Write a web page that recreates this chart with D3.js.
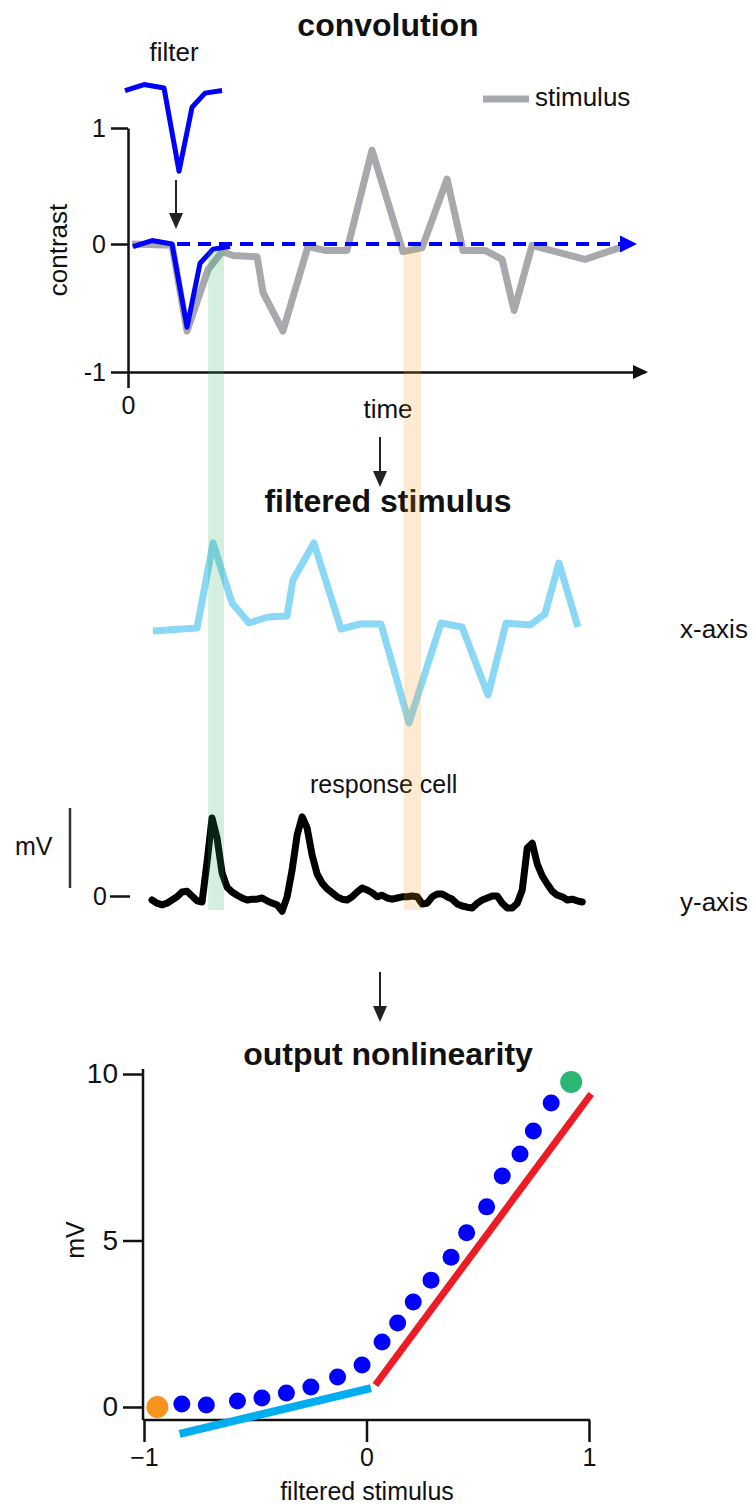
<!DOCTYPE html>
<html><head><meta charset="utf-8">
<script src="https://cdn.jsdelivr.net/npm/d3@7"></script>
<style>
body{margin:0;background:#fff}
text{font-family:"Liberation Sans",Arial,Helvetica,sans-serif;fill:#111}
</style>
</head><body>
<svg id="c" width="753" height="1504"></svg>
<script>
// ---------- data ----------
// convolution panel (time in frames, contrast)
const stimTime = [0.24,2.64,3.54,4.80,5.64,6.30,7.74,8.10,9.29,10.79,11.81,13.13,14.63,16.49,17.63,19.13,20.09,21.41,22.43,23.15,24.23,27.40,29.68];
const stimContrast = [0,-0.01,-0.68,-0.20,-0.06,-0.09,-0.10,-0.38,-0.68,-0.02,-0.05,-0.05,0.81,-0.06,-0.03,0.56,-0.05,-0.05,-0.12,-0.52,-0.01,-0.12,-0.02];
const filterTime = [0.30,1.44,2.64,3.54,4.32,5.10,6.12];
const filterWeight = [-0.02,0.03,0,-0.65,-0.15,-0.04,-0.02];
const contrastTicks = [-1,0,1];
const timeTicks = [0];
// filtered stimulus
const filteredTime = [1.50,4.14,5.10,6.24,7.26,8.40,9.53,9.89,11.15,12.77,13.91,15.17,16.85,18.77,20.03,21.59,22.67,24.11,25.00,25.84,26.98];
const filteredValue = [-0.06,-0.03,0.82,0.22,0.02,0.08,0.09,0.45,0.82,-0.04,0.01,0.01,-0.98,0.02,-0.02,-0.70,0.02,0.00,0.11,0.62,-0.02];
// response cell (mV), sampled every 0.3 frames from t = 1.44
const responseStart = 1.44, responseStep = 0.3;
const responseMV = [-0.5,-0.9,-1.1,-0.9,-0.5,-0.1,0.5,0.6,0,-0.6,-0.75,4.25,9.75,7.25,2.9,1.1,0.5,0.1,-0.25,-0.5,
 -0.4,-0.4,-0.25,-0.6,-0.9,-1.1,-1.9,-0.1,3.25,7.6,9.9,8.5,5.1,2.75,1.6,0.9,0.4,-0.1,-0.4,-0.5,
 -0.1,0.5,1.0,0.75,0.4,-0.1,0.1,-0.25,-0.4,-0.25,-0.1,-0.1,0,-0.1,-1.0,-0.9,-0.1,0.25,0.25,-0.1,
 -0.4,-1.0,-1.25,-1.4,-1.5,-0.9,-0.5,-0.25,0,0,-0.9,-1.5,-1.5,-0.9,0.75,6.0,6.6,4.0,2.5,1.5,
 0.6,0.1,-0.1,-0.5,-0.4,-0.6,-0.75];
const responseTicks = [0];
const scaleBarMV = [1, 11];
const highlightBands = [[4.80,5.76],[16.55,17.57]];
const bandColors = ["#27ae60","#f7941d"];
// output nonlinearity
const nlX = [-0.94,-0.83,-0.72,-0.58,-0.47,-0.36,-0.25,-0.13,-0.02,0.07,0.14,0.21,0.29,0.38,0.45,0.54,0.61,0.69,0.75,0.83,0.92];
const nlY = [0.0,0.09,0.06,0.18,0.27,0.42,0.60,0.90,1.26,1.95,2.52,3.15,3.81,4.50,5.23,6.01,6.94,7.60,8.29,9.13,9.76];
const fitNegX = [-0.84,0.02], fitNegY = [-0.81,0.57];
const fitPosX = [0.04,1.01],  fitPosY = [0.66,9.40];
const nlTicksX = [-1,0,1];
const nlTicksY = [0,5,10];

// ---------- drawing ----------
const svg = d3.select("#c");
const FONT = 25;

const tX = d3.scaleLinear().domain([0,31]).range([128,645]);
const cY = d3.scaleLinear().domain([-1,0,1]).range([372,244,128]);
const fY = d3.scaleLinear().domain([-1,1]).range([725,525]);
const rY = d3.scaleLinear().domain([0,10]).range([896,816]);
const nX = d3.scaleLinear().domain([-1,1]).range([144,589]);
const nY = d3.scaleLinear().domain([0,10]).range([1407,1074]);

function text(x,y,s,opt={}){
  const t = svg.append("text").attr("x",x).attr("y",y).text(s)
    .attr("font-size",opt.size||FONT).attr("text-anchor",opt.anchor||"start");
  if(opt.bold) t.attr("font-weight","bold");
  if(opt.rotate) t.attr("transform",`rotate(-90,${x},${y})`);
  return t;
}
function arrowDown(x,y1,y2){
  svg.append("line").attr("x1",x).attr("x2",x).attr("y1",y1).attr("y2",y2-12)
    .attr("stroke","#222").attr("stroke-width",2);
  svg.append("path").attr("d",`M${x-7},${y2-16}L${x+7},${y2-16}L${x},${y2}Z`).attr("fill","#222");
}
function styleAxis(g,size){
  g.selectAll("line").attr("stroke","#111").attr("stroke-width",2.5);
  g.selectAll("path").attr("stroke","#111").attr("stroke-width",2.5);
  g.selectAll("text").attr("font-size",size).attr("fill","#111")
    .attr("font-family",'"Liberation Sans",Arial,sans-serif');
}

// titles
text(388,36,"convolution",{size:32,bold:true,anchor:"middle"});
text(388,512,"filtered stimulus",{size:32,bold:true,anchor:"middle"});
text(388,1065,"output nonlinearity",{size:32,bold:true,anchor:"middle"});

// ---- convolution panel ----
const stimData = stimTime.map((t,i)=>[t,stimContrast[i]]);
const filtData = filterTime.map((t,i)=>[t,filterWeight[i]]);
const lineC = d3.line().x(d=>tX(d[0])).y(d=>cY(d[1]));

svg.append("path").attr("d",lineC(stimData)).attr("fill","none")
  .attr("stroke","#a7a9ac").attr("stroke-width",7).attr("stroke-linejoin","round");

// dashed zero line with arrowhead
const dashEnd = 29.5;
svg.append("line").attr("x1",tX(2.94)).attr("x2",tX(dashEnd)).attr("y1",cY(0)).attr("y2",cY(0))
  .attr("stroke","#0000ff").attr("stroke-width",4).attr("stroke-dasharray","13,8");
svg.append("path").attr("d",`M${tX(dashEnd)},${cY(0)-8.5}L${tX(dashEnd)+17},${cY(0)}L${tX(dashEnd)},${cY(0)+8.5}Z`)
  .attr("fill","#0000ff");

// filter (at zero line and copy above)
const fpath = lineC(filtData);
svg.append("path").attr("d",fpath).attr("fill","none")
  .attr("stroke","#0000ff").attr("stroke-width",5).attr("stroke-linejoin","round");
svg.append("path").attr("d",fpath).attr("fill","none").attr("transform","translate(-8,-156)")
  .attr("stroke","#0000ff").attr("stroke-width",5).attr("stroke-linejoin","round");
text(174,61,"filter",{anchor:"middle",size:26});
arrowDown(176,180,229);

// axes
const gy = svg.append("g").attr("transform",`translate(${tX(0)},0)`)
  .call(d3.axisLeft(cY).tickValues(contrastTicks).tickSize(17).tickSizeOuter(0).tickPadding(5).tickFormat(d=>String(d)));
styleAxis(gy,25);
const gx = svg.append("g").attr("transform",`translate(0,${cY(-1)})`)
  .call(d3.axisBottom(tX).tickValues(timeTicks).tickSize(16).tickSizeOuter(0).tickPadding(8).tickFormat(d=>String(d)));
styleAxis(gx,25);
const xEnd = tX.range()[1];
svg.append("path").attr("d",`M${xEnd-12},${cY(-1)-7}L${xEnd+3},${cY(-1)}L${xEnd-12},${cY(-1)+7}Z`).attr("fill","#111");
text(67,250,"contrast",{anchor:"middle",rotate:true,size:26});
text(388,418,"time",{anchor:"middle",size:26});
arrowDown(380,437,487);

// legend
svg.append("line").attr("x1",483).attr("x2",529).attr("y1",99).attr("y2",99)
  .attr("stroke","#a7a9ac").attr("stroke-width",7);
text(535,106,"stimulus",{size:26});

// ---- filtered stimulus ----
const filtStim = filteredTime.map((t,i)=>[t,filteredValue[i]]);
svg.append("path").attr("d",d3.line().x(d=>tX(d[0])).y(d=>fY(d[1]))(filtStim))
  .attr("fill","none").attr("stroke","#8ad8f6").attr("stroke-width",7).attr("stroke-linejoin","round");
text(680,638,"x-axis",{size:26});

// ---- response cell ----
svg.append("path").attr("d",d3.line().x((d,i)=>tX(responseStart+i*responseStep)).y(d=>rY(d))(responseMV))
  .attr("fill","none").attr("stroke","#000").attr("stroke-width",7)
  .attr("stroke-linejoin","round").attr("stroke-linecap","round");
text(310,793,"response cell");
const gr = svg.append("g").attr("transform","translate(130,0)")
  .call(d3.axisLeft(rY).tickValues(responseTicks).tickSize(20).tickPadding(3).tickFormat(d=>String(d)));
gr.select(".domain").remove();
styleAxis(gr,25);
svg.append("line").attr("x1",70).attr("x2",70).attr("y1",rY(scaleBarMV[0])).attr("y2",rY(scaleBarMV[1]))
  .attr("stroke","#333").attr("stroke-width",2.5);
text(15,855,"mV");
text(680,911,"y-axis",{size:26});

// highlight bands (on top, translucent)
highlightBands.forEach((b,i)=>{
  svg.append("rect").attr("x",tX(b[0])).attr("width",tX(b[1])-tX(b[0]))
    .attr("y",cY(-0.05)).attr("height",rY(-1.75)-cY(-0.05))
    .attr("fill",bandColors[i]).attr("fill-opacity",0.2);
});

arrowDown(380,972,1022);

// ---- output nonlinearity ----
const gny = svg.append("g").attr("transform",`translate(${nX(-1)-1},0)`)
  .call(d3.axisLeft(nY).tickValues(nlTicksY).tickSize(20).tickPadding(5).tickFormat(d=>String(d)));
gny.select(".domain").remove();
styleAxis(gny,28);
const axisYBottom = nY(-0.39);
svg.append("line").attr("x1",nX(-1)-1).attr("x2",nX(-1)-1).attr("y1",nY(10.15)).attr("y2",axisYBottom)
  .attr("stroke","#111").attr("stroke-width",2.5);
const gnx = svg.append("g").attr("transform",`translate(0,${axisYBottom})`)
  .call(d3.axisBottom(nX).tickValues(nlTicksX).tickSize(22).tickPadding(6)
    .tickFormat(d=>d<0?"\u2212"+Math.abs(d):String(d)));
gnx.select(".domain").remove();
styleAxis(gnx,25);
svg.append("line").attr("x1",nX(-1)-1).attr("x2",nX(1)+1).attr("y1",axisYBottom).attr("y2",axisYBottom)
  .attr("stroke","#111").attr("stroke-width",2.5);

svg.append("line").attr("x1",nX(fitNegX[0])).attr("y1",nY(fitNegY[0])).attr("x2",nX(fitNegX[1])).attr("y2",nY(fitNegY[1]))
  .attr("stroke","#00aeef").attr("stroke-width",8);
svg.append("line").attr("x1",nX(fitPosX[0])).attr("y1",nY(fitPosY[0])).attr("x2",nX(fitPosX[1])).attr("y2",nY(fitPosY[1]))
  .attr("stroke","#ed1c24").attr("stroke-width",7);

const last = nlX.length-1;
svg.selectAll("circle.nl").data(nlX.map((x,i)=>[x,nlY[i],i])).enter().append("circle")
  .attr("cx",d=>nX(d[0])).attr("cy",d=>nY(d[1]))
  .attr("r",d=>(d[2]===0||d[2]===last)?11:8.5)
  .attr("fill",d=>d[2]===0?"#f7941d":(d[2]===last?"#2bb673":"#0000ff"));

text(84,1240,"mV",{anchor:"middle",rotate:true});
text(367,1500,"filtered stimulus",{anchor:"middle"});
</script>
</body></html>
